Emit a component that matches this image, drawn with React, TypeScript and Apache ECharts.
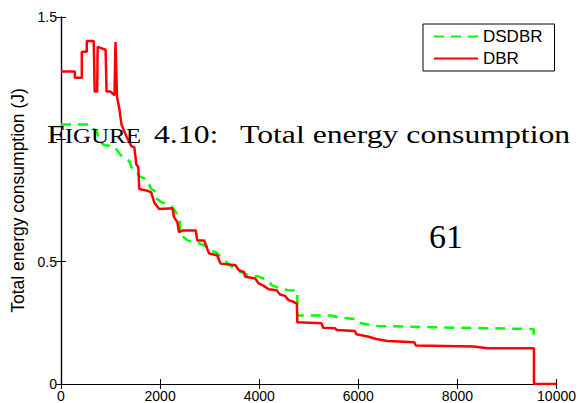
import React, { useEffect, useRef } from "react";
import * as echarts from "echarts";

// Time (x) vs. total energy consumption (J)
const dsdbrPoints: [number, number][] = [
  [0, 1.061], [580, 1.061], [640, 1.045], [720, 1.034], [780, 0.992], [880, 0.976],
  [1080, 0.972], [1160, 0.947], [1240, 0.927], [1380, 0.911], [1420, 0.886], [1520, 0.87],
  [1580, 0.85], [1720, 0.837], [1760, 0.825], [1820, 0.797], [1920, 0.785], [1940, 0.756],
  [2020, 0.744], [2180, 0.732], [2240, 0.724], [2340, 0.695], [2400, 0.667], [2400, 0.614],
  [2550, 0.587], [2730, 0.58], [2950, 0.561], [2990, 0.546], [3130, 0.539], [3230, 0.52],
  [3390, 0.488], [3550, 0.465], [3790, 0.444], [3990, 0.439], [4190, 0.423], [4250, 0.404],
  [4430, 0.39], [4590, 0.383], [4770, 0.382], [4770, 0.28], [5450, 0.28], [5590, 0.272],
  [5990, 0.264], [6050, 0.248], [6390, 0.237], [8000, 0.23], [9460, 0.225], [9540, 0.224],
  [9540, 0.18],
];

const dbrPoints: [number, number][] = [
  [0, 1.277], [280, 1.277], [280, 1.252], [420, 1.252], [420, 1.358], [520, 1.358],
  [520, 1.402], [660, 1.402], [680, 1.195], [730, 1.195], [740, 1.378], [900, 1.366],
  [920, 1.195], [1000, 1.195], [1080, 1.18], [1100, 1.398], [1130, 1.175], [1180, 1.122],
  [1220, 1.061], [1320, 1.012], [1380, 0.988], [1420, 0.972], [1480, 0.967], [1520, 0.898],
  [1560, 0.886], [1580, 0.797], [1740, 0.79], [1820, 0.783], [1880, 0.743], [1980, 0.715],
  [2250, 0.718], [2280, 0.682], [2350, 0.661], [2380, 0.621], [2450, 0.627], [2720, 0.627],
  [2750, 0.587], [2890, 0.587], [2950, 0.553], [2990, 0.533], [3150, 0.526], [3220, 0.492],
  [3520, 0.485], [3590, 0.465], [3690, 0.458], [3720, 0.438], [3920, 0.431], [3990, 0.411],
  [4090, 0.401], [4190, 0.387], [4350, 0.383], [4420, 0.366], [4520, 0.36], [4590, 0.343],
  [4690, 0.336], [4760, 0.329], [4770, 0.252], [5260, 0.248], [5290, 0.23], [5530, 0.228],
  [5560, 0.221], [5930, 0.217], [5960, 0.203], [6190, 0.194], [6360, 0.184], [6590, 0.176],
  [7130, 0.171], [7160, 0.157], [8330, 0.153], [8600, 0.146], [9545, 0.146], [9545, 0],
  [10000, 0],
];

const seriesNames = ["DSDBR", "DBR"];
const seriesColors = ["#00ff00", "#ff0000"];
const yAxisTitle = "Total energy consumption (J)";
const captionLead = "F";
const captionSmall = "IGURE";
const captionNumber = "4.10:";
const captionTitle = "Total energy consumption";
const pageNumber = "61";

export default function App() {
  const ref = useRef<HTMLDivElement>(null);
  useEffect(() => {
    if (!ref.current) return;
    const chart = echarts.init(ref.current, null, { renderer: "svg" });
    const sans = "Liberation Sans";
    const serif = "Liberation Serif";
    const axisCommon = {
      type: "value" as const,
      axisLine: { show: true, lineStyle: { color: "#000", width: 1.2 } },
      axisTick: { show: true, inside: true, length: 5, lineStyle: { color: "#000" } },
      splitLine: { show: false },
    };
    const richCaption = {
      big: { fontFamily: serif, fontSize: 26, lineHeight: 26, verticalAlign: "bottom", fill: "#000" },
      small: { fontFamily: serif, fontSize: 20.5, lineHeight: 26, verticalAlign: "bottom", fill: "#000" },
    };
    const captionPart = (x: number, text: string) => ({
      type: "text",
      x,
      y: 121,
      scaleX: 1.22,
      z: 100,
      style: { text, rich: richCaption, verticalAlign: "top", align: "left" },
    });
    chart.setOption({
      animation: false,
      backgroundColor: "#fff",
      grid: { left: 61, right: 19, top: 17, bottom: 17, containLabel: false },
      legend: {
        data: seriesNames,
        orient: "vertical",
        left: 423,
        top: 24,
        backgroundColor: "#fff",
        borderColor: "#000",
        borderWidth: 1,
        padding: [4, 12, 4, 10],
        itemWidth: 44,
        itemHeight: 14,
        itemGap: 5,
        itemStyle: { opacity: 0 },
        textStyle: { fontFamily: sans, fontSize: 17, color: "#000" },
      },
      xAxis: [
        {
          ...axisCommon,
          min: 0,
          max: 10000,
          interval: 2000,
          position: "bottom",
          axisLabel: {
            fontFamily: sans,
            fontSize: 14,
            color: "#000",
            margin: 5,
            formatter: (v: number) => String(v),
          },
        },
        {
          ...axisCommon,
          min: 0,
          max: 10000,
          interval: 2000,
          position: "top",
          axisLabel: { show: false },
        },
      ],
      yAxis: [
        {
          ...axisCommon,
          min: 0,
          max: 1.5,
          interval: 0.5,
          position: "left",
          name: yAxisTitle,
          nameLocation: "middle",
          nameGap: 33,
          nameTextStyle: { fontFamily: sans, fontSize: 17.5, color: "#000" },
          axisLabel: {
            fontFamily: sans,
            fontSize: 14,
            color: "#000",
            margin: 4,
            formatter: (v: number) => (v === 1 ? "" : String(v)),
          },
        },
        {
          ...axisCommon,
          min: 0,
          max: 1.5,
          interval: 0.5,
          position: "right",
          axisLabel: { show: false },
        },
      ],
      series: [
        {
          name: seriesNames[0],
          type: "line",
          data: dsdbrPoints,
          symbol: "none",
          color: seriesColors[0],
          lineStyle: { color: seriesColors[0], width: 2.5, type: [10, 7] },
          z: 2,
        },
        {
          name: seriesNames[1],
          type: "line",
          data: dbrPoints,
          symbol: "none",
          color: seriesColors[1],
          lineStyle: { color: seriesColors[1], width: 2.5, type: "solid" },
          z: 3,
        },
      ],
      graphic: [
        captionPart(47, `{big|${captionLead}}{small|${captionSmall}}`),
        captionPart(154, `{big|${captionNumber}}`),
        captionPart(240, `{big|${captionTitle}}`),
        {
          type: "text",
          left: 429,
          top: 219,
          z: 100,
          style: { text: pageNumber, fontFamily: serif, fontSize: 34, fill: "#000" },
        },
      ],
    });
    return () => chart.dispose();
  }, []);
  return (
    <div
      ref={ref}
      style={{ position: "fixed", left: 0, top: 0, width: 579, height: 403 }}
    />
  );
}
